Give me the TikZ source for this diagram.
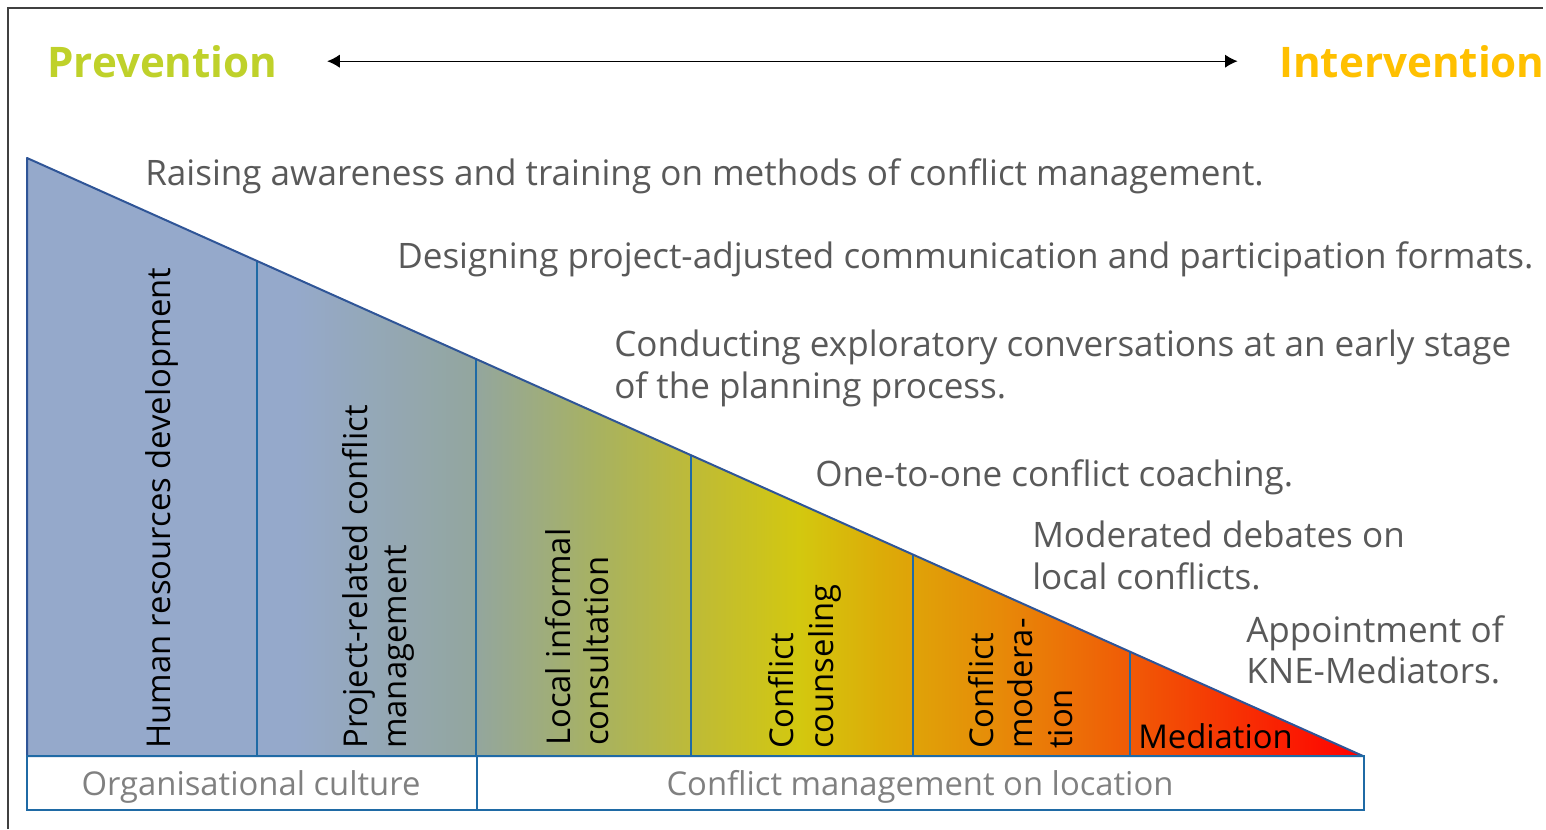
\documentclass[tikz,border=0pt]{standalone}
\usepackage{fontspec}
\setmainfont{Open Sans}
\usetikzlibrary{arrows.meta}

\definecolor{prevgreen}{HTML}{BFD12A}
\definecolor{intorange}{HTML}{FFC000}
\definecolor{txtgray}{HTML}{595959}
\definecolor{boxgray}{HTML}{808080}
\definecolor{edgeblue}{HTML}{2F5597}
\definecolor{lineblue}{HTML}{1F6AA5}
\definecolor{framegray}{HTML}{404040}
% wedge colours, left to right
\definecolor{wA}{HTML}{95A9CB}
\definecolor{wB}{HTML}{93A69E}
\definecolor{wC}{HTML}{A8B260}
\definecolor{wD}{HTML}{BFBB35}
\definecolor{wE}{HTML}{D3C80F}
\definecolor{wF}{HTML}{DCAC08}
\definecolor{wG}{HTML}{E78A08}
\definecolor{wH}{HTML}{F05A06}
\definecolor{wI}{HTML}{FF0000}

\pgfdeclarehorizontalshading{wedge}{100bp}{color(0bp)=(wA); color(35bp)=(wA);
  color(41.8bp)=(wB); color(46.4bp)=(wC); color(50.1bp)=(wD); color(53.9bp)=(wE);
  color(56.9bp)=(wF); color(61.4bp)=(wG); color(66.3bp)=(wH); color(75bp)=(wI);
  color(100bp)=(wI)}

\tikzset{
  head/.style={anchor=base west, inner sep=0pt, font=\fontsize{31.6}{38}\selectfont\bfseries},
  note/.style={anchor=base west, inner sep=0pt, text=txtgray, font=\fontsize{26.3}{31}\selectfont},
  stage/.style={anchor=base west, inner sep=0pt, rotate=90, font=\fontsize{24.6}{30}\selectfont},
  boxlabel/.style={anchor=base, inner sep=0pt, text=boxgray, font=\fontsize{24.6}{30}\selectfont},
  divider/.style={draw=lineblue, line width=1.5pt},
  basebox/.style={draw=lineblue, line width=1.5pt},
}

\begin{document}
\begin{tikzpicture}[x=0.75pt,y=-0.75pt]
\useasboundingbox (0,0) rectangle (1546,829);
\draw[framegray, line width=2.2pt] (8,829) -- (8,8) -- (1543,8);

% top line
\node[head, text=prevgreen] (prev) at (47,77) {Prevention};
\node[head, text=intorange] (interv) at (1279,77) {Intervention};
\draw[{Latex[length=9.5pt,width=10pt]}-{Latex[length=9.5pt,width=10pt]}, line width=1pt,
  shorten <=37pt, shorten >=31pt] (prev.east) -- (interv.west);

% wedge
\coordinate (apex) at (27,158);
\coordinate (corner) at (27,756);
\coordinate (tip) at (1363,756);
\shade[shading=wedge] (apex) -- (tip) -- (corner) -- cycle;
\draw[divider] (257,756) -- (257,261);
\draw[divider] (476,756) -- (476,359);
\draw[divider] (691,756) -- (691,455);
\draw[divider] (913,756) -- (913,555);
\draw[divider] (1130,756) -- (1130,652);
\draw[edgeblue, line width=1.5pt, line join=round] (apex) -- (tip) -- (corner) -- cycle;

% stages in the wedge
\node[stage] (hrd) at (170,749) {Human resources development};
\node[stage] (prj) at (367,749) {Project-related conflict};
\node[stage] (prjb) at (406,749) {management};
\node[stage] (loc) at (570,746) {Local informal};
\node[stage] (locb) at (608,746) {consultation};
\node[stage] (cns) at (793,749) {Conflict};
\node[stage] (cnsb) at (833,749) {counseling};
\node[stage] (mod) at (993,749) {Conflict};
\node[stage] (modb) at (1032,749) {modera-};
\node[stage] (modc) at (1072,749) {tion};
\node[anchor=base west, inner sep=0pt, font=\fontsize{24.6}{30}\selectfont] (med) at (1138,748) {Mediation};

% measures
\node[note] (train) at (145,185) {Raising awareness and training on methods of conflict management.};
\node[note] (formats) at (397,268) {Designing project-adjusted communication and participation formats.};
\node[note] (talks) at (614,356) {Conducting exploratory conversations at an early stage};
\node[note] (talksb) at (614,398) {of the planning process.};
\node[note] (coach) at (815,486) {One-to-one conflict coaching.};
\node[note] (debate) at (1032,547) {Moderated debates on};
\node[note] (debateb) at (1032,589) {local conflicts.};
\node[note] (kne) at (1246,642) {Appointment of};
\node[note] (kneb) at (1246,683) {KNE-Mediators.};

% bottom boxes
\draw[basebox] (27,756) rectangle (477,810);
\draw[basebox] (477,756) rectangle (1364,810);
\node[boxlabel] (org) at (251,795) {Organisational culture};
\node[boxlabel] (site) at (920,795) {Conflict management on location};
\end{tikzpicture}
\end{document}
